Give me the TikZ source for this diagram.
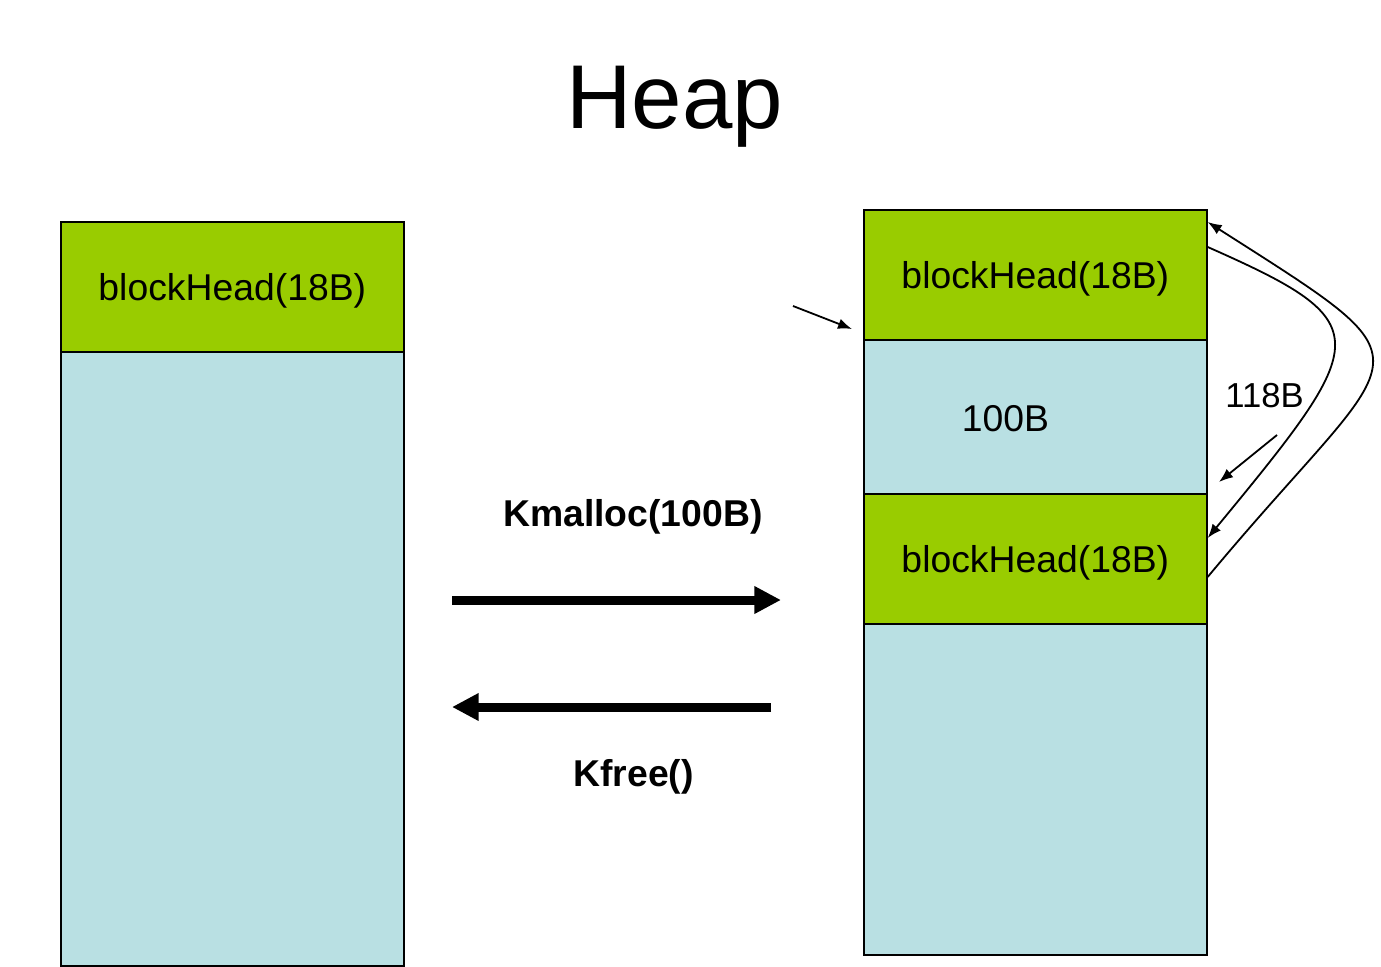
\documentclass[tikz,border=0pt]{standalone}
\usepackage{fontspec}
\setmainfont{Liberation Sans}
\usetikzlibrary{arrows.meta,calc}
\definecolor{headgreen}{RGB}{153,204,0}
\definecolor{freeblue}{RGB}{185,224,227}
\tikzset{
	headpart/.style={draw, fill=headgreen, line width=1.5pt, minimum width=257pt, minimum height=97.5pt, inner sep=0pt, outer sep=0pt, text depth=0pt, font=\fontsize{28}{30}\selectfont},
	bodypart/.style={draw, fill=freeblue, line width=1.5pt, minimum width=257pt, inner sep=0pt, outer sep=0pt},
	boxtext/.style={anchor=base, inner sep=0pt, font=\fontsize{28}{30}\selectfont},
	bigarrow/.style={line width=6.75pt, -{Triangle[length=20pt,width=19.5pt]}},
	thinarrow/.style={line width=1.35pt, -{Latex[length=10.5pt,width=8pt]}},
}
\begin{document}
\begin{tikzpicture}[x=0.75pt,y=0.75pt,yscale=-1,xscale=1]
			\useasboundingbox (0,0) rectangle (1381,967);
			%Title
			\node [anchor=base, inner sep=0pt, font=\fontsize{68}{70}\selectfont] (title) at (674.5,128) {Heap};
			%Left heap
			\node [headpart, anchor=north west] (lhead) at (61,222) {blockHead(18B)};
			\node [bodypart, anchor=north west, minimum height=460.5pt] (lbody) at (61,352) {};
			%Right heap
			\node [headpart, anchor=north west] (rhead) at (864,210) {blockHead(18B)};
			\node [bodypart, anchor=north west, minimum height=115.5pt] (rused) at (864,340) {};
			\node [headpart, anchor=north west] (rnext) at (864,494) {blockHead(18B)};
			\node [bodypart, anchor=north west, minimum height=248.25pt] (rbody) at (864,624) {};
			\node [boxtext] (usedsize) at (1005.5,431) {100B};
			\node [boxtext, font=\fontsize{26}{28}\selectfont] (stepsize) at (1264.5,407) {118B};
			%Operations
			\node [boxtext, font=\bfseries\fontsize{28}{30}\selectfont] (kmalloc) at (633,526) {Kmalloc(100B)};
			\node [boxtext, font=\bfseries\fontsize{28}{30}\selectfont] (kfree) at (633.5,786) {Kfree()};
			\coordinate (mallocstart) at (452,600);
			\coordinate (mallocend) at (781,600);
			\coordinate (freestart) at (771,707);
			\coordinate (freeend) at (452,707);
			\draw [bigarrow] (mallocstart) -- (mallocend);
			\draw [bigarrow] (freestart) -- (freeend);
			%Straight Lines
			\coordinate (ptrtail) at (793,306);
			\coordinate (ptrtip) at (852,329);
			\draw [thinarrow] (ptrtail) -- (ptrtip);
			\coordinate (sizetail) at (1277,435);
			\coordinate (sizetip) at (1219,482);
			\draw [thinarrow] (sizetail) -- (sizetip);
			%Curves
			\draw [thinarrow] ($(rhead.east)+(1,-28)$) .. controls +(172,76) and +(165,-200) .. ($(rnext.east)+(1,-21)$);
			\draw [thinarrow] ($(rnext.east)+(1,18)$) .. controls +(198,-238) and +(238,152) .. ($(rhead.north east)+(1,12)$);
		\end{tikzpicture}
\end{document}
